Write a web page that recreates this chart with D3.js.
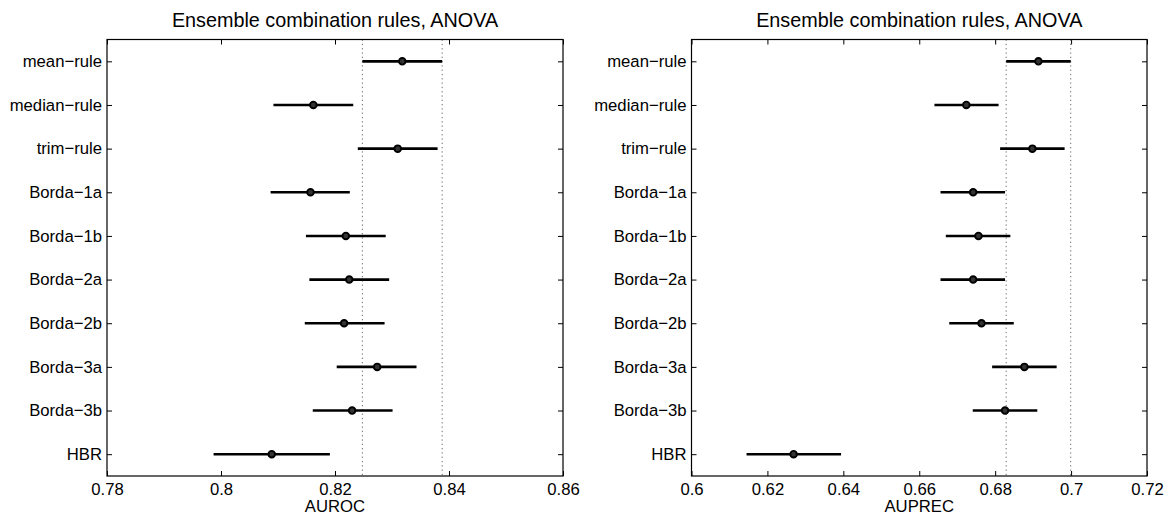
<!DOCTYPE html>
<html>
<head>
<meta charset="utf-8">
<script src="https://cdn.jsdelivr.net/npm/d3@7"></script>
<style>
  body { margin: 0; background: #fff; }
  svg text { font-family: "Liberation Sans", Arial, Helvetica, sans-serif; fill: #000; }
  .axis path { display: none; }
  .axis line { stroke: #000; stroke-width: 1; }
</style>
</head>
<body>
<div id="chart"></div>
<script>
// Categories (top to bottom)
var categories = ['mean\u2212rule', 'median\u2212rule', 'trim\u2212rule', 'Borda\u22121a', 'Borda\u22121b',
                  'Borda\u22122a', 'Borda\u22122b', 'Borda\u22123a', 'Borda\u22123b', 'HBR'];

// AUROC: estimate and interval ends
var aurocMean = [0.8318, 0.8162, 0.8310, 0.8157, 0.8219, 0.8225, 0.8216, 0.8274, 0.8230, 0.8089];
var aurocLow  = [0.8248, 0.8092, 0.8240, 0.8087, 0.8149, 0.8155, 0.8147, 0.8203, 0.8161, 0.7987];
var aurocHigh = [0.8388, 0.8232, 0.8380, 0.8226, 0.8289, 0.8295, 0.8287, 0.8343, 0.8301, 0.8191];

// AUPREC: estimate and interval ends
var auprecMean = [0.6914, 0.6724, 0.6898, 0.6742, 0.6756, 0.6742, 0.6764, 0.6877, 0.6826, 0.6269];
var auprecLow  = [0.6829, 0.6640, 0.6813, 0.6656, 0.6670, 0.6656, 0.6679, 0.6792, 0.6741, 0.6145];
var auprecHigh = [0.6999, 0.6809, 0.6983, 0.6826, 0.6840, 0.6826, 0.6849, 0.6962, 0.6911, 0.6394];

var aurocTicks  = [0.78, 0.80, 0.82, 0.84, 0.86];
var auprecTicks = [0.60, 0.62, 0.64, 0.66, 0.68, 0.70, 0.72];

var title = 'Ensemble combination rules, ANOVA';

var width = 1169, height = 516;
var top_ = 39.5, bottom = 476;

var svg = d3.select('#chart').append('svg')
	.attr('width', width)
	.attr('height', height);

function drawPanel(left, right, ticks, mean, low, high, xlabel)
{
	var x = d3.scaleLinear()
		.domain([ticks[0], ticks[ticks.length - 1]])
		.range([left, right]);

	var y = d3.scalePoint()
		.domain(categories)
		.range([top_, bottom])
		.padding(0.5);

	var fmt = function(d) { return String(+d.toFixed(2)); };

	// axes, ticks pointing inward like matlab
	svg.append('g').attr('class', 'axis')
		.attr('transform', 'translate(0,' + bottom + ')')
		.call(d3.axisBottom(x).tickValues(ticks).tickFormat(fmt).tickSizeInner(-5).tickSizeOuter(0).tickPadding(7))
		.selectAll('text').style('font-size', '16.7px');

	svg.append('g').attr('class', 'axis')
		.attr('transform', 'translate(0,' + top_ + ')')
		.call(d3.axisTop(x).tickValues(ticks).tickFormat('').tickSizeInner(-5).tickSizeOuter(0));

	svg.append('g').attr('class', 'axis')
		.attr('transform', 'translate(' + left + ',0)')
		.call(d3.axisLeft(y).tickSizeInner(-5).tickSizeOuter(0).tickPadding(5))
		.selectAll('text').style('font-size', '16.7px');

	svg.append('g').attr('class', 'axis')
		.attr('transform', 'translate(' + right + ',0)')
		.call(d3.axisRight(y).tickFormat('').tickSizeInner(-5).tickSizeOuter(0));

	// reference lines at the mean-rule interval
	svg.append('g').selectAll('line')
		.data([low[0], high[0]])
		.enter().append('line')
		.attr('x1', d => x(d)).attr('x2', d => x(d))
		.attr('y1', top_).attr('y2', bottom)
		.attr('stroke', '#6e6e6e')
		.attr('stroke-width', 1)
		.attr('stroke-dasharray', '1.3,3');

	// frame
	svg.append('rect')
		.attr('x', left).attr('y', top_)
		.attr('width', right - left).attr('height', bottom - top_)
		.attr('fill', 'none')
		.attr('stroke', '#000')
		.attr('stroke-width', 1.2);

	var rows = categories.map((c, i) => ({cat: c, m: mean[i], lo: low[i], hi: high[i]}));

	svg.append('g').selectAll('line')
		.data(rows)
		.enter().append('line')
		.attr('x1', d => x(d.lo)).attr('x2', d => x(d.hi))
		.attr('y1', d => y(d.cat)).attr('y2', d => y(d.cat))
		.attr('stroke', '#000')
		.attr('stroke-width', 2.6);

	svg.append('g').selectAll('circle')
		.data(rows)
		.enter().append('circle')
		.attr('cx', d => x(d.m))
		.attr('cy', d => y(d.cat))
		.attr('r', 3.3)
		.attr('fill', '#333')
		.attr('stroke', '#000')
		.attr('stroke-width', 1.9);

	svg.append('text')
		.attr('x', (left + right) / 2)
		.attr('y', 26.7)
		.attr('text-anchor', 'middle')
		.style('font-size', '19.8px')
		.text(title);

	svg.append('text')
		.attr('x', (left + right) / 2)
		.attr('y', 511.7)
		.attr('text-anchor', 'middle')
		.style('font-size', '16.7px')
		.text(xlabel);
}

drawPanel(107, 563, aurocTicks, aurocMean, aurocLow, aurocHigh, 'AUROC');
drawPanel(691.5, 1147, auprecTicks, auprecMean, auprecLow, auprecHigh, 'AUPREC');
</script>
</body>
</html>
